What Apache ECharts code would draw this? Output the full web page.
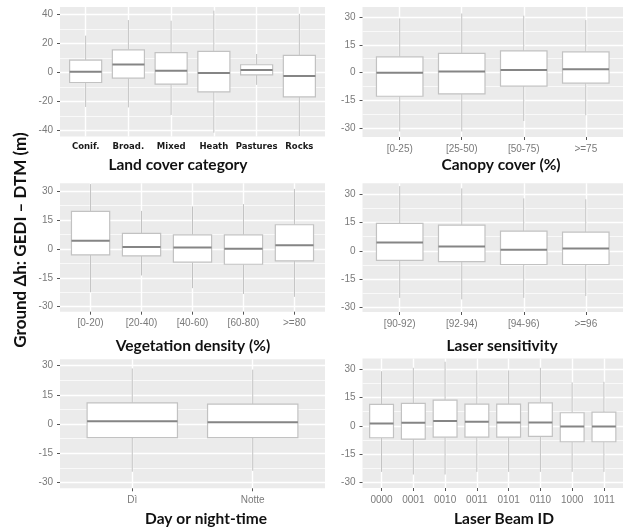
<!DOCTYPE html>
<html><head><meta charset="utf-8">
<script src="https://cdn.jsdelivr.net/npm/echarts@6/dist/echarts.min.js"></script>
<style>html,body{margin:0;padding:0;background:#fff}#c{width:623px;height:528px}</style>
</head><body><div id="c"></div>
<script>
// ---------- data (box stats: [lower whisker, Q1, median, Q3, upper whisker]) ----------
const landCats = ['Conif.', 'Broad.', 'Mixed', 'Heath', 'Pastures', 'Rocks'];
const landStats = [
  [-23.7, -6.9, 0.5, 8.5, 25.3],
  [-24.0, -3.9, 5.5, 15.6, 36.0],
  [-29.2, -8.0, 1.2, 13.6, 35.6],
  [-41.4, -13.3, -0.4, 14.5, 42.5],
  [-8.5, -1.6, 1.7, 5.3, 12.7],
  [-43.7, -16.8, -2.5, 11.7, 40.3]
];
const canopyCats = ['[0-25)', '[25-50)', '[50-75)', '>=75'];
const canopyStats = [
  [-32.0, -12.9, -0.2, 8.5, 29.3],
  [-32.0, -11.6, 0.5, 10.3, 32.0],
  [-26.3, -7.4, 1.4, 11.7, 30.8],
  [-23.2, -5.8, 1.8, 11.2, 28.4]
];
const vegCats = ['[0-20)', '[20-40)', '[40-60)', '[60-80)', '>=80'];
const vegStats = [
  [-22.5, -3.1, 4.2, 19.4, 33.6],
  [-13.8, -3.6, 1.0, 8.0, 19.7],
  [-20.4, -6.9, 0.7, 7.3, 22.0],
  [-23.4, -8.0, 0.0, 7.3, 23.2],
  [-24.9, -6.2, 1.9, 12.5, 31.1]
];
const sensCats = ['[90-92)', '[92-94)', '[94-96)', '>=96'];
const sensStats = [
  [-25.0, -5.1, 4.4, 14.5, 34.3],
  [-25.8, -5.8, 2.3, 13.6, 33.1],
  [-25.0, -7.3, 0.5, 10.4, 27.8],
  [-24.0, -7.3, 1.2, 9.9, 27.3]
];
const dayCats = ['Dì', 'Notte'];
const dayStats = [
  [-24.5, -7.0, 1.5, 10.9, 28.6],
  [-24.0, -7.0, 1.0, 10.3, 28.0]
];
const beamCats = ['0000', '0001', '0010', '0011', '0101', '0110', '1000', '1011'];
const beamStats = [
  [-24.3, -6.3, 1.2, 11.3, 28.8],
  [-25.7, -7.0, 1.6, 11.8, 30.6],
  [-25.7, -6.0, 2.5, 13.5, 33.8],
  [-24.3, -6.0, 2.1, 11.4, 29.2],
  [-24.3, -6.0, 1.8, 11.4, 29.2],
  [-24.3, -5.6, 1.8, 12.1, 30.6],
  [-24.3, -8.4, -0.4, 6.9, 22.9],
  [-24.3, -8.4, -0.4, 7.2, 23.2]
];
// tick labels
const yTicksLand = [-40, -20, 0, 20, 40];
const yMinorLand = [-30, -10, 10, 30];
const yTicks = [-30, -15, 0, 15, 30];
const yMinor = [-22.5, -7.5, 7.5, 22.5];
const xTitles = ['Land cover category', 'Canopy cover (%)', 'Vegetation density (%)', 'Laser sensitivity', 'Day or night-time', 'Laser Beam ID'];
const yTitle = 'Ground \u0394h: GEDI \u2013 DTM (m)';

// ---------- layout ----------
const panels = [
  {cats: landCats, stats: landStats, ticks: yTicksLand, minor: yMinorLand, ymin: -44, ymax: 45,
   grid: {left: 60, top: 7, width: 265, height: 129.5}, boldLabels: true},
  {cats: canopyCats, stats: canopyStats, ticks: yTicks, minor: yMinor, ymin: -35, ymax: 35.5,
   grid: {left: 362.5, top: 7, width: 263.5, height: 130}},
  {cats: vegCats, stats: vegStats, ticks: yTicks, minor: yMinor, ymin: -32.6, ymax: 34,
   grid: {left: 60, top: 183.3, width: 265, height: 128.4}},
  {cats: sensCats, stats: sensStats, ticks: yTicks, minor: yMinor, ymin: -32.5, ymax: 35.8,
   grid: {left: 362.5, top: 183.3, width: 263.5, height: 128.7}},
  {cats: dayCats, stats: dayStats, ticks: yTicks, minor: yMinor, ymin: -33, ymax: 33.3,
   grid: {left: 60, top: 359.3, width: 265, height: 129}},
  {cats: beamCats, stats: beamStats, ticks: yTicks, minor: yMinor, ymin: -32.8, ymax: 35.5,
   grid: {left: 362.5, top: 358.5, width: 263.5, height: 129.5}}
];
const titlePos = [[178, 164.5], [501, 164.5], [193, 346], [502, 346], [206, 518.5], [504, 518.5]];

const BOX_LINE = '#c2c2c2';
const MED_LINE = '#858585';
const LABEL_GREY = '#7a7a7a';

function renderBox(params, api) {
  const x = api.value(0);
  const lo = api.coord([x, api.value(1)]);
  const q1 = api.coord([x, api.value(2)]);
  const md = api.coord([x, api.value(3)]);
  const q3 = api.coord([x, api.value(4)]);
  const hi = api.coord([x, api.value(5)]);
  const w = api.size([0.75, 0])[0];
  const cx = lo[0];
  return {
    type: 'group',
    children: [
      {type: 'line', shape: {x1: cx, y1: hi[1], x2: cx, y2: q3[1]}, style: {stroke: BOX_LINE, lineWidth: 1}},
      {type: 'line', shape: {x1: cx, y1: q1[1], x2: cx, y2: lo[1]}, style: {stroke: BOX_LINE, lineWidth: 1}},
      {type: 'rect', shape: {x: cx - w / 2, y: q3[1], width: w, height: q1[1] - q3[1]},
       style: {fill: '#ffffff', stroke: BOX_LINE, lineWidth: 1.2}},
      {type: 'line', shape: {x1: cx - w / 2, y1: md[1], x2: cx + w / 2, y2: md[1]},
       style: {stroke: MED_LINE, lineWidth: 2}}
    ]
  };
}

const grid = [], xAxis = [], yAxis = [], series = [];
panels.forEach((p, i) => {
  const n = p.cats.length;
  const idx = p.cats.map((c, k) => k);
  grid.push(Object.assign({show: true, backgroundColor: '#ebebeb', borderWidth: 0}, p.grid));
  xAxis.push({
    type: 'value', gridIndex: i, min: -0.6, max: n - 0.4, position: 'bottom',
    axisLine: {show: false, onZero: false},
    axisTick: {show: !p.boldLabels, customValues: idx, length: 3, lineStyle: {color: '#555', width: 1}},
    axisLabel: {
      customValues: idx, margin: p.boldLabels ? 6 : 7,
      formatter: v => p.cats[Math.round(v)],
      color: p.boldLabels ? '#1a1a1a' : LABEL_GREY,
      fontFamily: p.boldLabels ? 'DejaVu Sans' : 'Liberation Sans',
      fontWeight: p.boldLabels ? 'bold' : 'normal',
      fontSize: p.boldLabels ? 8.5 : 10
    },
    splitLine: {show: true, lineStyle: {color: '#ffffff', width: 1.4}}
  });
  yAxis.push({
    type: 'value', gridIndex: i, min: p.ymin, max: p.ymax, position: 'left',
    axisLine: {show: false, onZero: false},
    axisTick: {show: true, customValues: p.ticks, length: 3, lineStyle: {color: '#555', width: 1}},
    axisLabel: {customValues: p.ticks, margin: 7, color: LABEL_GREY, fontFamily: 'Liberation Sans', fontSize: 10},
    splitLine: {show: true, lineStyle: {color: '#ffffff', width: 1.4}},
    z: 1
  });
  yAxis.push({
    type: 'value', gridIndex: i, min: p.ymin, max: p.ymax, position: 'left',
    axisLine: {show: false, onZero: false},
    axisTick: {show: false, customValues: p.minor},
    axisLabel: {show: false, customValues: p.minor},
    splitLine: {show: true, lineStyle: {color: '#ffffff', width: 0.7}},
    z: 0
  });
  series.push({
    type: 'custom', xAxisIndex: i, yAxisIndex: 2 * i, clip: true,
    renderItem: renderBox,
    encode: {x: 0, y: [1, 2, 3, 4, 5]},
    data: p.stats.map((s, k) => [k].concat(s)),
    z: 5
  });
});

const graphic = xTitles.map((t, i) => ({
  type: 'text', x: titlePos[i][0], y: titlePos[i][1],
  style: {text: t, fontFamily: 'Lato', fontWeight: 'bold', fontSize: 15.5, fill: '#111',
          align: 'center', verticalAlign: 'middle', textAlign: 'center', textVerticalAlign: 'middle'}
}));
graphic.push({
  type: 'text', x: 21, y: 240, rotation: Math.PI / 2,
  style: {text: yTitle, fontFamily: 'Lato', fontWeight: 'bold', fontSize: 17, fill: '#111',
          align: 'center', verticalAlign: 'middle', textAlign: 'center', textVerticalAlign: 'middle'}
});

const chart = echarts.init(document.getElementById('c'), null, {renderer: 'canvas'});
chart.setOption({
  animation: false,
  backgroundColor: '#ffffff',
  grid, xAxis, yAxis, series, graphic
});
</script></body></html>
